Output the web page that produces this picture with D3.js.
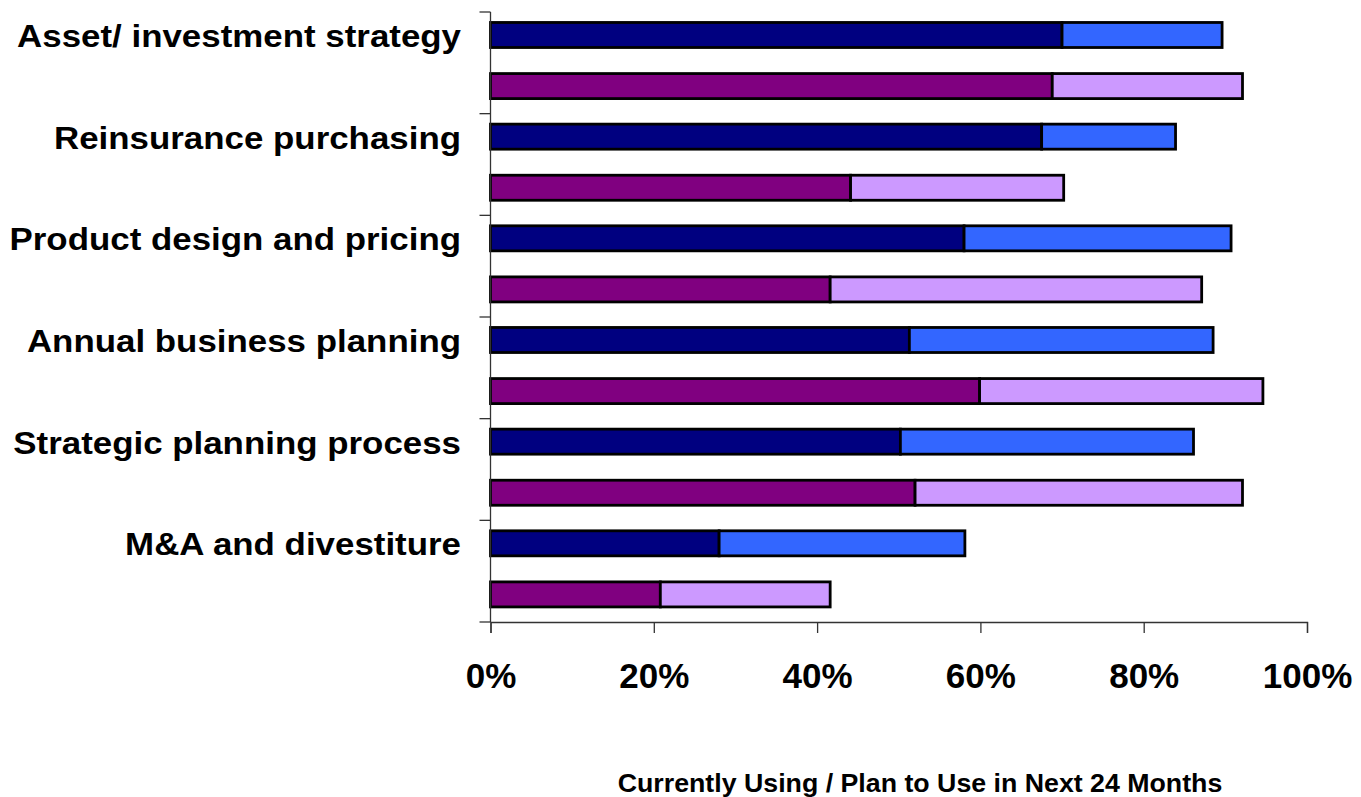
<!DOCTYPE html>
<html>
<head>
<meta charset="utf-8">
<script src="https://cdn.jsdelivr.net/npm/d3@7/dist/d3.min.js"></script>
<style>
  html, body { margin: 0; padding: 0; background: #ffffff; }
  svg { display: block; }
  text { font-family: "Liberation Sans", Arial, sans-serif; font-weight: bold; fill: #000; }
</style>
</head>
<body>
<svg id="chart" width="1361" height="797"></svg>
<script>
// Categories, top to bottom
const categories = [
  "Asset/ investment strategy",
  "Reinsurance purchasing",
  "Product design and pricing",
  "Annual business planning",
  "Strategic planning process",
  "M&A and divestiture"
];

// Group A (blue bars): currently using / plan to use in next 24 months (%)
const groupACurrent = [70.0, 67.5, 58.0, 51.3, 50.2, 28.0];
const groupAPlan    = [19.6, 16.4, 32.7, 37.2, 35.9, 30.1];

// Group B (purple bars): currently using / plan to use in next 24 months (%)
const groupBCurrent = [68.8, 44.1, 41.6, 59.9, 52.0, 20.8];
const groupBPlan    = [23.3, 26.1, 45.5, 34.7, 40.1, 20.8];

const xTicks = [0, 20, 40, 60, 80, 100];
const axisTitle = "Currently Using / Plan to Use in Next 24 Months";

const groups = [
  { key: "A", current: groupACurrent, plan: groupAPlan, colors: ["#000080", "#3366FF"] },
  { key: "B", current: groupBCurrent, plan: groupBPlan, colors: ["#800080", "#CC99FF"] }
];

const svg = d3.select("#chart");
const plotLeft = 490.5, plotRight = 1307, plotTop = 12, plotBottom = 622;

const x = d3.scaleLinear().domain([0, 100]).range([plotLeft, plotRight]);
const y = d3.scaleBand().domain(categories).range([plotTop, plotBottom]).padding(0);
const yInner = d3.scaleBand().domain(groups.map(g => g.key))
  .range([0, y.bandwidth()]).paddingInner(0.51).paddingOuter(0.25).align(0.41);

// Bars
const stack = d3.stack().keys(["current", "plan"]);
groups.forEach(g => {
  const rows = categories.map((c, i) => ({ cat: c, current: g.current[i], plan: g.plan[i] }));
  const layers = stack(rows);
  layers.forEach((layer, li) => {
    svg.append("g")
      .selectAll("rect")
      .data(layer)
      .join("rect")
      .attr("x", d => x(d[0]))
      .attr("y", d => y(d.data.cat) + yInner(g.key))
      .attr("width", d => x(d[1]) - x(d[0]))
      .attr("height", yInner.bandwidth())
      .attr("fill", g.colors[li])
      .attr("stroke", "#000")
      .attr("stroke-width", 2.8);
  });
});

// Vertical category axis with boundary ticks
const axisColor = "#333";
svg.append("line")
  .attr("x1", plotLeft).attr("x2", plotLeft).attr("y1", plotTop).attr("y2", plotBottom)
  .attr("stroke", axisColor).attr("stroke-width", 1.3);
const boundaries = categories.map(c => y(c)).concat([plotBottom]);
svg.append("g").selectAll("line").data(boundaries).join("line")
  .attr("x1", plotLeft - 11).attr("x2", plotLeft).attr("y1", d => d).attr("y2", d => d)
  .attr("stroke", axisColor).attr("stroke-width", 1.3);

// Category labels, aligned with the first bar of each pair
svg.append("g").selectAll("text").data(categories).join("text")
  .attr("text-anchor", "end")
  .attr("font-size", 32)
  .attr("transform", c => {
    const cy = y(c) + yInner("A") + yInner.bandwidth() / 2 + 12;
    return `translate(461,${cy}) scale(1.09,1)`;
  })
  .text(c => c);

// Horizontal value axis
const xAxis = d3.axisBottom(x).tickValues(xTicks).tickSize(11).tickFormat(d => d + "%");
const gx = svg.append("g").attr("transform", `translate(0,${plotBottom})`).call(xAxis);
gx.select(".domain").attr("stroke", axisColor).attr("stroke-width", 1.3);
gx.selectAll(".tick line").attr("stroke", axisColor).attr("stroke-width", 1.3);
gx.selectAll(".tick text")
  .attr("font-size", 35)
  .attr("font-family", "'Liberation Sans', Arial, sans-serif")
  .attr("font-weight", "bold")
  .attr("fill", "#000")
  .attr("dy", 0)
  .attr("y", 66);

// Axis title
svg.append("text")
  .attr("text-anchor", "middle")
  .attr("font-size", 25)
  .attr("transform", `translate(920,792) scale(1.07,1)`)
  .text(axisTitle);
</script>
</body>
</html>
